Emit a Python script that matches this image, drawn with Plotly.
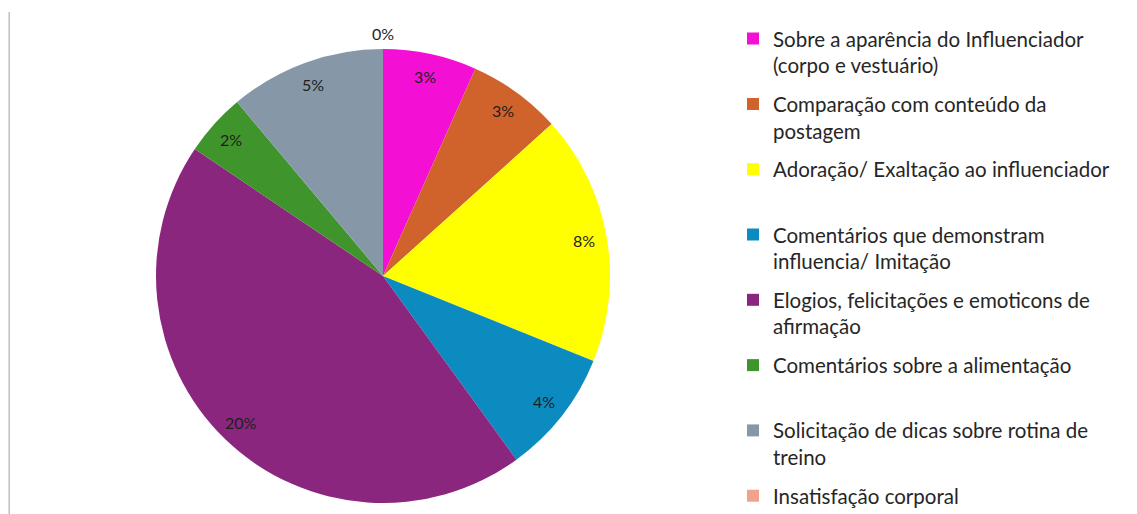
import math
import plotly.graph_objects as go

# categories, values and colours
categorias = [
    "Sobre a aparência do Influenciador<br>(corpo e vestuário)",
    "Comparação com conteúdo da<br>postagem",
    "Adoração/ Exaltação ao influenciador<br> ",
    "Comentários que demonstram<br>influencia/ Imitação",
    "Elogios, felicitações e emoticons de<br>afirmação",
    "Comentários sobre a alimentação<br> ",
    "Solicitação de dicas sobre rotina de<br>treino",
    "Insatisfação corporal",
]
valores = [3, 3, 8, 4, 20, 2, 5, 0]
cores = ["#F40FD5", "#D0632B", "#FFFF00", "#0C8BC0",
         "#8B267F", "#40942C", "#8698A8", "#F0A28A"]

W, H = 1137, 514
FONTE = "Lato"

# pie placement (paper coords) - page body adds an 8px offset
cx, cy = 375 / W, 1 - 268 / H
raio_px = 227
dominio_x = [cx - raio_px / W, cx + raio_px / W]
dominio_y = [cy - raio_px / H, cy + raio_px / H]

fig = go.Figure()

fig.add_trace(go.Pie(
    labels=categorias,
    values=valores,
    marker=dict(colors=cores, line=dict(width=0)),
    sort=False,
    direction="clockwise",
    rotation=0,
    textinfo="none",
    domain=dict(x=dominio_x, y=dominio_y),
    showlegend=False,
    hoverinfo="label+value",
))

# legend entries (one per category, so the spacing can match the original)
for nome, cor in zip(categorias, cores):
    fig.add_trace(go.Scatter(
        x=[None], y=[None], mode="markers", name=nome,
        legendgroup=nome,
        marker=dict(symbol="square", size=12, color=cor, line=dict(width=0)),
    ))

# value labels near the outer edge of each slice; empty slices get theirs outside
anotacoes = []
total = sum(valores)
acum = 0
for v in valores:
    meio = (acum + v / 2) / total * 2 * math.pi
    fator = 0.9 if v > 0 else 1.07
    anotacoes.append(dict(
        x=cx + fator * raio_px * math.sin(meio) / W,
        y=cy + fator * raio_px * math.cos(meio) / H,
        xref="paper", yref="paper", showarrow=False,
        xanchor="center", yanchor="middle",
        text=f"{v}%",
        font=dict(family=FONTE, size=16, color="#1e1e1e"),
    ))
    acum += v

fig.update_layout(
    width=W, height=H,
    margin=dict(l=0, r=0, t=0, b=0),
    paper_bgcolor="white",
    plot_bgcolor="white",
    font=dict(family=FONTE, size=20.5, color="#262626"),
    xaxis=dict(visible=False),
    yaxis=dict(visible=False),
    annotations=anotacoes,
    legend=dict(
        x=725 / W, y=0.979,
        xanchor="left", yanchor="top",
        valign="top",
        traceorder="grouped",
        tracegroupgap=9,
        itemwidth=30,
        font=dict(family=FONTE, size=20.5, color="#262626"),
    ),
    shapes=[dict(type="line", xref="paper", yref="paper",
                 x0=0.001, x1=0.001, y0=0, y1=0.992,
                 line=dict(color="#A0A0A0", width=1))],
)

fig.write_html("out.html")
